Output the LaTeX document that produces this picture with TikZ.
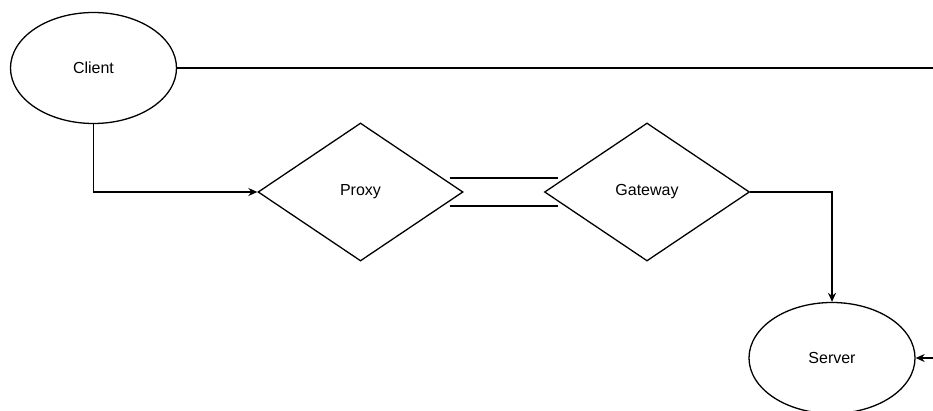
\documentclass[tikz,border=0pt]{standalone}
\usepackage{fontspec}
\setmainfont{Liberation Sans}
\usetikzlibrary{shapes.geometric,arrows.meta}

\tikzset{
  oval/.style={draw,ellipse,inner sep=0pt,minimum width=166pt,minimum height=111pt},
  gate/.style={draw,diamond,inner sep=0pt,minimum width=205pt,minimum height=138pt},
  link/.style={line width=1.3pt},
  flow/.style={link,-{Stealth[length=9pt,width=8pt]}}
}

\begin{document}
\begin{tikzpicture}[x=1pt,y=-1pt,font=\fontsize{16}{19}\selectfont,line width=1.3pt]
\useasboundingbox (0,0) rectangle (933,411);
\node[oval] (client) at (93.5,68) {Client};
\node[gate] (proxy) at (360.5,192) {Proxy};
\node[gate] (gateway) at (647,192) {Gateway};
\node[oval] (server) at (832,358) {Server};
\coordinate (edgetop) at (933,68);
\coordinate (edgeright) at (933,358);
% client to the right edge and down into the proxy
\draw[link] (client) -- (edgetop);
\draw[flow] (client.south) |- (proxy.west);
% double line between the two diamonds
\draw[link] ([xshift=-14pt,yshift=14pt]proxy.east) -- ([xshift=14pt,yshift=14pt]gateway.west);
\draw[link] ([xshift=-14pt,yshift=-14pt]proxy.east) -- ([xshift=14pt,yshift=-14pt]gateway.west);
\draw[flow] (gateway.east) -| (server.north);
\draw[flow] (edgeright) -- (server.east);
\end{tikzpicture}
\end{document}
